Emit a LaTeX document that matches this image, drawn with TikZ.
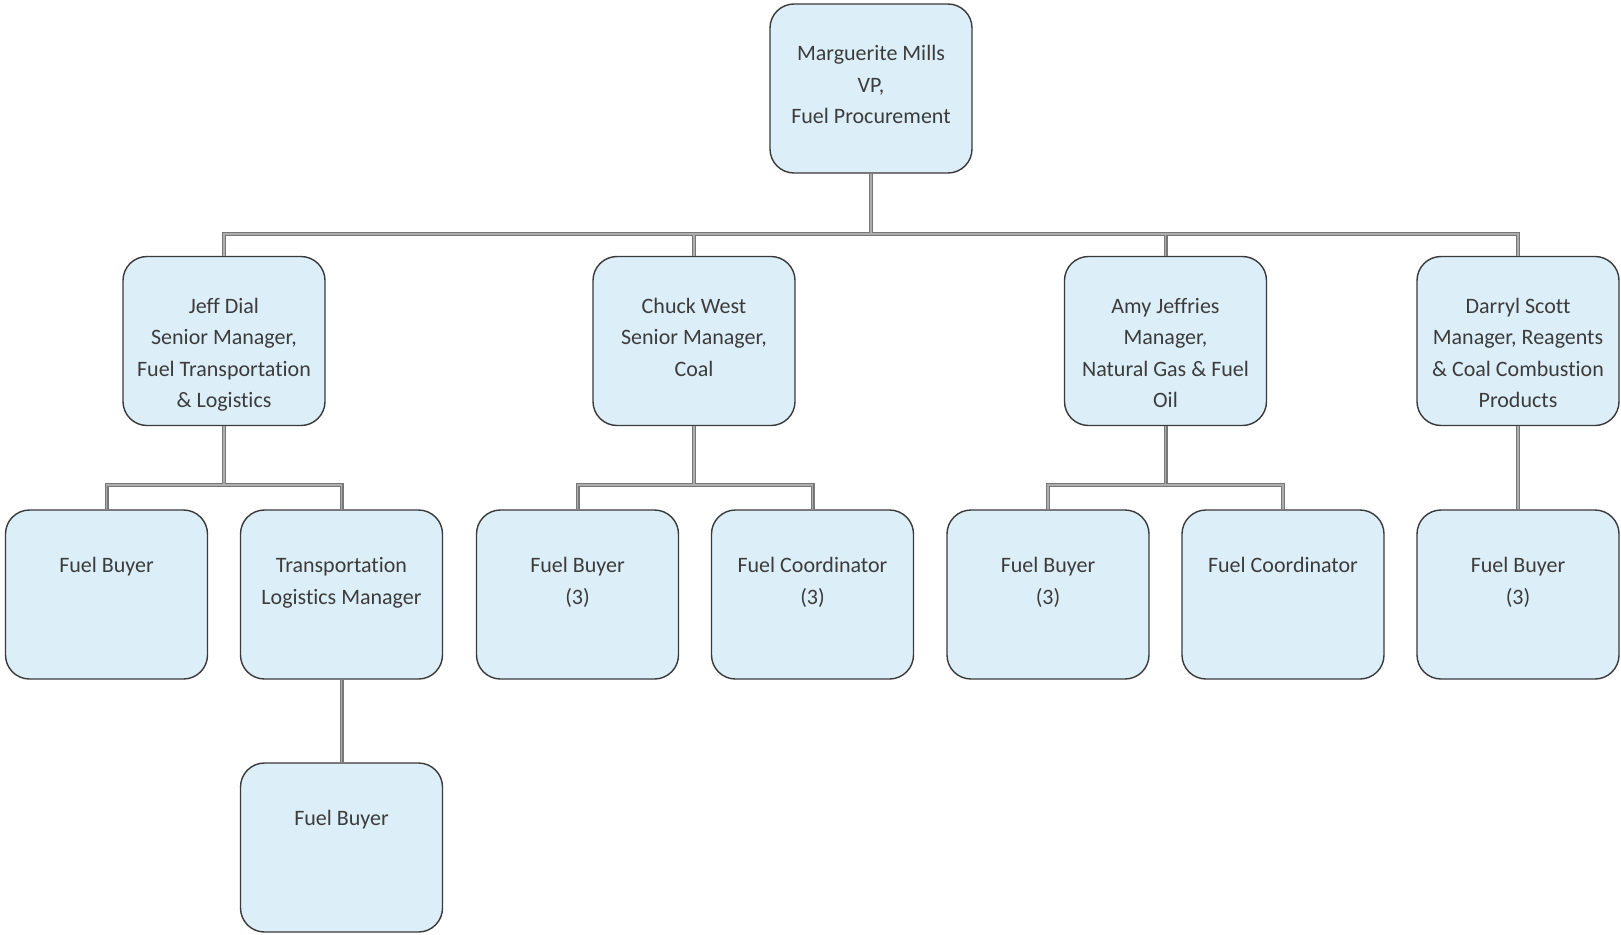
\documentclass[tikz,border=0pt]{standalone}
\usepackage{fontspec}
\setmainfont{Carlito}[Ligatures={NoCommon}]
\definecolor{boxfill}{HTML}{DCEEF8}
\definecolor{boxline}{HTML}{3A3A3A}
\definecolor{txtc}{HTML}{3C3C3C}
\definecolor{connout}{HTML}{777777}
\definecolor{connin}{HTML}{ADADAD}
\tikzset{
  box/.style={draw=boxline, line width=1.4pt, fill=boxfill, rounded corners=24pt,
    minimum width=202pt, minimum height=169pt, inner sep=0pt},
  txt/.style={anchor=north, align=center, inner sep=0pt, text=txtc,
    font=\fontsize{22}{31.5}\selectfont},
  connA/.style={draw=connout, line width=4pt},
  connB/.style={draw=connin, line width=1.6pt}
}
\newcommand{\allconn}[1]{%
  \draw[#1] (vp.south) -- (vp.south |- bus1);
  \draw[#1] (jeff.north) -- (jeff.north |- bus1) -- (darryl.north |- bus1) -- (darryl.north);
  \draw[#1] (chuck.north) -- (chuck.north |- bus1);
  \draw[#1] (amy.north) -- (amy.north |- bus1);
  \draw[#1] (jeff.south) -- (jeff.south |- bus2);
  \draw[#1] (fb1.north) -- (fb1.north |- bus2) -- (tlm.north |- bus2) -- (tlm.north);
  \draw[#1] (chuck.south) -- (chuck.south |- bus2);
  \draw[#1] (fb2.north) -- (fb2.north |- bus2) -- (fc2.north |- bus2) -- (fc2.north);
  \draw[#1] (amy.south) -- (amy.south |- bus2);
  \draw[#1] (fb3.north) -- (fb3.north |- bus2) -- (fc3.north |- bus2) -- (fc3.north);
  \draw[#1] (darryl.south) -- (fb4.north);
  \draw[#1] (tlm.south) -- (fb5.north);
}
\begin{document}
\begin{tikzpicture}[x=1pt, y=-1pt]
\useasboundingbox[fill=white] (0,0) rectangle (1621,934);
\coordinate (bus1) at (0,234);
\coordinate (bus2) at (0,485);
% boxes
\node[box] (vp) at (871,88.5) {};
\node[box] (jeff) at (224,341) {};
\node[box] (chuck) at (694,341) {};
\node[box] (amy) at (1165.5,341) {};
\node[box] (darryl) at (1518,341) {};
\node[box] (fb1) at (106.5,594.5) {};
\node[box] (tlm) at (341.5,594.5) {};
\node[box] (fb2) at (577.5,594.5) {};
\node[box] (fc2) at (812.5,594.5) {};
\node[box] (fb3) at (1048,594.5) {};
\node[box] (fc3) at (1283,594.5) {};
\node[box] (fb4) at (1518,594.5) {};
\node[box] (fb5) at (341.5,847.5) {};
% connectors
\allconn{connA}
\allconn{connB}
% texts
\node[txt] (tvp) at ([yshift=-42pt]vp.north) {Marguerite Mills\\VP,\\Fuel Procurement};
\node[txt] (tjeff) at ([yshift=-42pt]jeff.north) {Jeff Dial\\Senior Manager,\\Fuel Transportation\\\& Logistics};
\node[txt] (tchuck) at ([yshift=-42pt]chuck.north) {Chuck West\\Senior Manager,\\Coal};
\node[txt] (tamy) at ([yshift=-42pt]amy.north) {Amy Jeffries\\Manager,\\Natural Gas \& Fuel\\Oil};
\node[txt] (tdarryl) at ([yshift=-42pt]darryl.north) {Darryl Scott\\Manager, Reagents\\\& Coal Combustion\\Products};
\node[txt] (tfb1) at ([yshift=-48pt]fb1.north) {Fuel Buyer};
\node[txt] (ttlm) at ([yshift=-48pt]tlm.north) {Transportation\\Logistics Manager};
\node[txt] (tfb2) at ([yshift=-48pt]fb2.north) {Fuel Buyer\\(3)};
\node[txt] (tfc2) at ([yshift=-48pt]fc2.north) {Fuel Coordinator\\(3)};
\node[txt] (tfb3) at ([yshift=-48pt]fb3.north) {Fuel Buyer\\(3)};
\node[txt] (tfc3) at ([yshift=-48pt]fc3.north) {Fuel Coordinator};
\node[txt] (tfb4) at ([yshift=-48pt]fb4.north) {Fuel Buyer\\(3)};
\node[txt] (tfb5) at ([yshift=-48pt]fb5.north) {Fuel Buyer};
\end{tikzpicture}
\end{document}
